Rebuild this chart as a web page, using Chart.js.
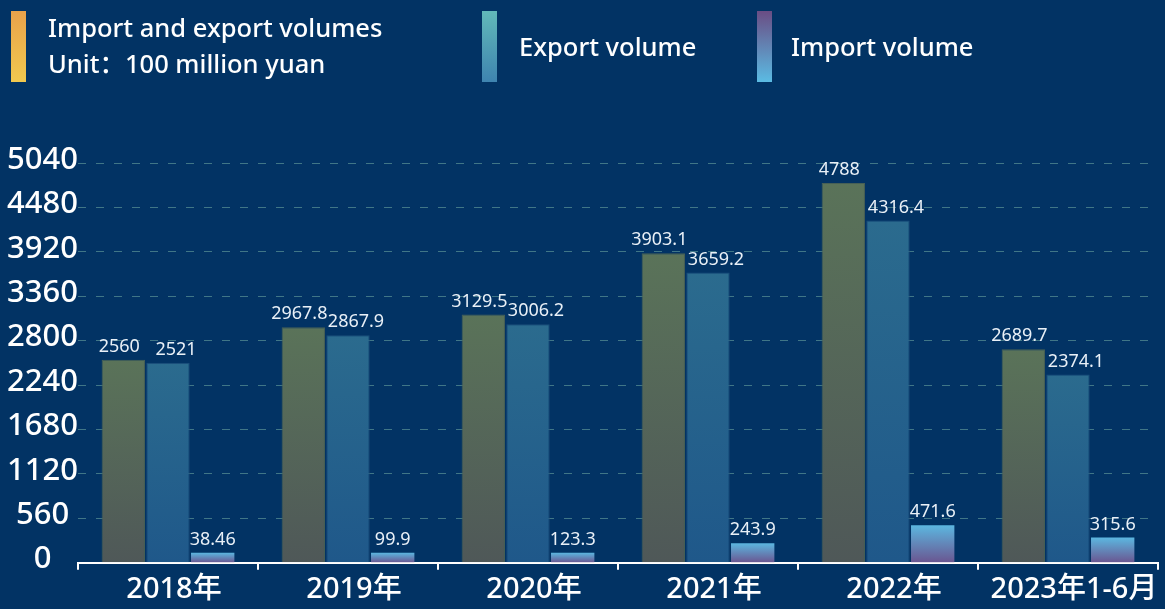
<!DOCTYPE html>
<html>
<head>
<meta charset="utf-8">
<script src="https://cdn.jsdelivr.net/npm/chart.js@4"></script>
<style>
  html, body { margin: 0; padding: 0; background: #023364; }
  #wrap { position: relative; width: 1165px; height: 609px; overflow: hidden; }
  #chart { position: absolute; left: 0; top: 0; }
  .legend-bar { position: absolute; top: 11px; width: 15px; height: 71px; }
  .legend-text {
    position: absolute; color: #ffffff; font-family: "Noto Sans", "Noto Sans CJK SC", sans-serif;
    font-size: 25.5px; font-weight: 500; white-space: nowrap; line-height: 36px;
  }
</style>
</head>
<body>
<div id="wrap">
  <canvas id="chart" width="1165" height="609"></canvas>
  <div class="legend-bar" style="left:11px;background:linear-gradient(#e9a24b,#f1c94f);"></div>
  <div class="legend-text" style="left:48px;top:9px;">Import and export volumes<br>Unit：100 million yuan</div>
  <div class="legend-bar" style="left:482px;background:linear-gradient(#62b9b9,#3e84b0);"></div>
  <div class="legend-text" style="left:519px;top:28px;">Export volume</div>
  <div class="legend-bar" style="left:757px;background:linear-gradient(#6a4d84,#5bbbe3);"></div>
  <div class="legend-text" style="left:791px;top:28px;">Import volume</div>
</div>
<script>
  "use strict";

  const categories = ["2018年", "2019年", "2020年", "2021年", "2022年", "2023年1-6月"];
  const totalVolume = [2560, 2967.8, 3129.5, 3903.1, 4788, 2689.7];
  const exportVolume = [2521, 2867.9, 3006.2, 3659.2, 4316.4, 2374.1];
  const importVolume = [38.46, 99.9, 123.3, 243.9, 471.6, 315.6];
  const yMin = 0;
  const yMax = 5040;
  const yStep = 560;

  const FONT = "'Noto Sans', 'Noto Sans CJK SC', sans-serif";
  const MIN_BAR_PX = 10;

  // вертикальный градиент на каждый столбец отдельно
  function barGradient(topColor, bottomColor) {
    return function (ctx) {
      const chart = ctx.chart;
      const area = chart.chartArea;
      if (!area || ctx.type !== "data" || !chart.scales.y) return bottomColor;
      let top = chart.scales.y.getPixelForValue(ctx.parsed.y);
      top = Math.min(top, area.bottom - MIN_BAR_PX);
      const g = chart.ctx.createLinearGradient(0, top, 0, area.bottom);
      g.addColorStop(0, topColor);
      g.addColorStop(1, bottomColor);
      return g;
    };
  }

  const valueLabels = {
    id: "valueLabels",
    afterDatasetsDraw(chart) {
      const c = chart.ctx;
      const shifts = [-4, 8, 0];
      c.save();
      c.font = "400 18px " + FONT;
      c.fillStyle = "#e9f0f7";
      c.textAlign = "center";
      c.textBaseline = "bottom";
      chart.data.datasets.forEach((ds, di) => {
        const meta = chart.getDatasetMeta(di);
        meta.data.forEach((el, i) => {
          c.fillText(String(ds.data[i]), el.x + shifts[di], el.y - 4);
        });
      });
      c.restore();
    },
  };

  new Chart(document.getElementById("chart"), {
    type: "bar",
    data: {
      labels: categories,
      datasets: [
        {
          label: "Import and export volumes",
          data: totalVolume,
          backgroundColor: barGradient("#5a7359", "#4f5858"),
          borderColor: "#476056",
          borderWidth: 1,
        },
        {
          label: "Export volume",
          data: exportVolume,
          backgroundColor: barGradient("#2b6b8e", "#1f588a"),
          borderColor: "#1b4e7b",
          borderWidth: 1,
        },
        {
          label: "Import volume",
          data: importVolume,
          backgroundColor: barGradient("#5cb7e0", "#6a5590"),
          borderWidth: 0,
          minBarLength: MIN_BAR_PX,
        },
      ],
    },
    options: {
      responsive: false,
      animation: false,
      categoryPercentage: 0.745,
      barPercentage: 0.97,
      layout: { padding: { top: 163, right: 7, bottom: 0, left: 0 } },
      plugins: {
        legend: { display: false },
        tooltip: { enabled: false },
      },
      scales: {
        x: {
          z: 1,
          border: { display: true, color: "#ffffff", width: 2 },
          grid: {
            offset: true,
            drawOnChartArea: false,
            drawTicks: true,
            tickLength: 7,
            color: "#ffffff",
            lineWidth: 2,
          },
          ticks: {
            color: "#ffffff",
            padding: 3,
            labelOffset: 6,
            maxRotation: 0,
            autoSkip: false,
            font: { size: 29, weight: "500", family: FONT, lineHeight: 1.15 },
          },
        },
        y: {
          z: 1,
          min: yMin,
          max: yMax,
          afterFit(scale) {
            scale.width = 78;
          },
          grid: {
            drawTicks: false,
            lineWidth: 1,
            color(ctx) {
              return ctx.tick && ctx.tick.value === 0 ? "rgba(0,0,0,0)" : "rgba(125, 185, 170, 0.5)";
            },
          },
          border: { display: false, dash: [8, 10] },
          ticks: {
            stepSize: yStep,
            color: "#ffffff",
            padding: 0,
            crossAlign: "center",
            labelOffset: -3,
            font: { size: 31, weight: "500", family: FONT },
            callback(v) {
              return String(v);
            },
          },
        },
      },
    },
    plugins: [valueLabels],
  });
</script>
</body>
</html>
